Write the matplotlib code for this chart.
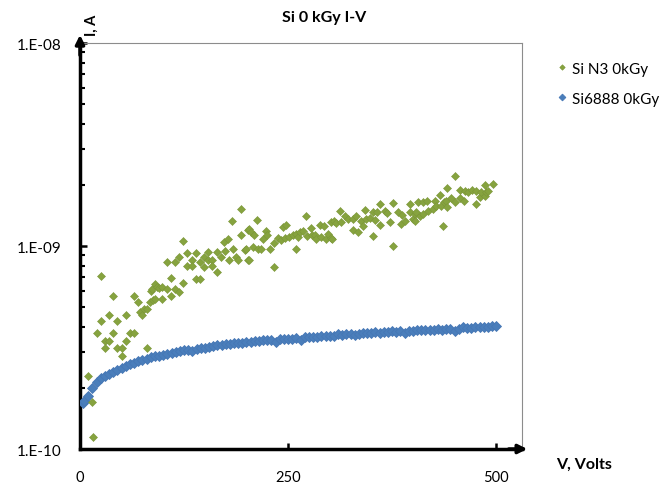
import numpy as np
import matplotlib
matplotlib.use("Agg")
import matplotlib.pyplot as plt
from matplotlib.ticker import LogLocator, NullFormatter, FixedLocator

plt.rcParams['font.family'] = ['Lato', 'DejaVu Sans']

title = "Si 0 kGy I-V"
series_names = ["Si N3 0kGy", "Si6888 0kGy"]
x_label = "V, Volts"
y_label = "I, A"
x_ticks = [0, 250, 500]
y_ticks = [1e-10, 1e-9, 1e-8]
y_tick_labels = ["1.E-10", "1.E-09", "1.E-08"]

# Si N3 0kGy (green)
green_v = [10, 15, 16, 20, 25, 25, 30, 30, 35, 35, 40, 40, 45, 45, 50, 50, 55, 55, 60, 65,
           65, 70, 72, 75, 77, 80, 80, 84, 85, 86, 88, 90, 90, 92, 95,
           99, 99, 104, 104, 109, 109, 114, 114, 119, 119, 124, 124, 129, 129, 134, 134,
           139, 139, 144, 144, 149, 149, 154, 154, 159, 159, 164, 164, 169, 173, 174,
           178, 179, 183, 184, 188, 190, 193, 193, 198, 199, 202, 202,
           203, 203, 206, 208, 209, 213, 214, 218, 220, 223, 225, 228, 233, 233, 238,
           241, 244, 246, 248, 251, 256, 259, 260, 262, 264, 268, 272, 273, 278, 279,
           282, 284, 288, 290, 293, 295, 298,
           302, 302, 303, 305, 308, 312, 314, 318, 322, 328, 328, 332, 334, 338, 340,
           342, 344, 348, 352, 352, 354, 357, 360, 361, 366, 369, 372, 376, 376, 382,
           386, 387, 391, 396, 396, 400, 402,
           403, 404, 406, 409, 412, 412, 417, 418, 424, 427, 428, 432, 434, 436, 437,
           440, 441, 441, 446, 451, 451, 456, 456, 461, 462, 466, 471, 476, 476, 480,
           482, 486, 486, 488, 490, 496]
green_i = [2.30e-10, 1.71e-10, 1.15e-10, 3.73e-10, 7.14e-10, 4.29e-10, 3.42e-10, 3.13e-10,
           4.57e-10, 3.42e-10, 5.69e-10, 3.73e-10, 4.29e-10, 3.13e-10, 3.13e-10, 2.88e-10,
           4.57e-10, 3.42e-10, 3.73e-10, 5.69e-10,
           3.73e-10, 5.28e-10, 4.71e-10, 4.57e-10, 4.90e-10, 4.90e-10, 3.13e-10, 5.28e-10,
           6.02e-10, 6.14e-10, 5.39e-10, 6.50e-10, 5.48e-10, 6.26e-10, 6.20e-10,
           6.26e-10, 5.48e-10, 8.37e-10, 6.14e-10, 6.93e-10, 5.69e-10, 8.37e-10, 6.14e-10,
           8.86e-10, 5.96e-10, 1.055e-9, 6.55e-10, 9.20e-10, 8.00e-10, 8.53e-10, 8.00e-10,
           9.20e-10, 6.88e-10, 8.37e-10, 6.88e-10, 8.80e-10, 7.90e-10, 9.37e-10, 8.53e-10,
           8.53e-10, 8.00e-10, 9.37e-10, 7.47e-10, 8.86e-10, 1.05e-9, 9.50e-10,
           1.08e-9, 8.53e-10, 1.33e-9, 9.66e-10, 8.86e-10, 8.53e-10, 1.52e-9, 1.13e-9,
           9.55e-10, 9.66e-10, 1.20e-9, 8.53e-10,
           1.21e-9, 8.56e-10, 1.17e-9, 9.85e-10, 1.13e-9, 1.34e-9, 9.66e-10, 9.66e-10,
           1.08e-9, 1.18e-9, 1.13e-9, 9.66e-10, 1.04e-9, 7.85e-10, 1.09e-9,
           1.07e-9, 1.245e-9, 1.09e-9, 1.27e-9, 1.11e-9, 1.13e-9, 9.66e-10, 1.15e-9,
           1.11e-9, 1.17e-9, 1.19e-9, 1.41e-9, 1.12e-9, 1.22e-9, 1.13e-9,
           1.13e-9, 1.08e-9, 1.27e-9, 1.11e-9, 1.26e-9, 1.08e-9, 1.15e-9,
           1.31e-9, 1.10e-9, 1.08e-9, 1.33e-9, 1.30e-9, 1.48e-9, 1.32e-9, 1.41e-9,
           1.36e-9, 1.36e-9, 1.20e-9, 1.41e-9, 1.17e-9, 1.33e-9, 1.26e-9,
           1.51e-9, 1.36e-9, 1.38e-9, 1.47e-9, 1.12e-9, 1.35e-9, 1.47e-9, 1.27e-9,
           1.61e-9, 1.48e-9, 1.45e-9, 1.31e-9, 1.63e-9, 9.96e-10, 1.47e-9,
           1.28e-9, 1.42e-9, 1.33e-9, 1.61e-9, 1.47e-9, 1.36e-9, 1.44e-9,
           1.33e-9, 1.47e-9, 1.64e-9, 1.40e-9, 1.65e-9, 1.44e-9, 1.67e-9, 1.49e-9,
           1.52e-9, 1.67e-9, 1.57e-9, 1.78e-9, 1.58e-9, 1.26e-9, 1.64e-9,
           1.67e-9, 1.92e-9, 1.55e-9, 1.72e-9, 2.20e-9, 1.64e-9, 1.89e-9, 1.73e-9,
           1.67e-9, 1.86e-9, 1.84e-9, 1.89e-9, 1.86e-9, 1.61e-9, 1.75e-9,
           1.84e-9, 2.00e-9, 1.76e-9, 1.85e-9, 1.87e-9, 2.02e-9]

# Si6888 0kGy (blue), values in units of 1e-10 A, at V = 4, 5, 10, ..., 500
blue_v = [4] + list(range(5, 501, 5))
blue_i_e10 = [1.68,
              1.72, 1.83, 2.00, 2.15, 2.24, 2.30, 2.35, 2.40, 2.46, 2.52,
              2.57, 2.62, 2.66, 2.70, 2.75, 2.78, 2.83, 2.87, 2.88, 2.92,
              2.95, 2.98, 3.00, 3.04, 3.06, 3.08, 3.03, 3.12, 3.14, 3.16,
              3.18, 3.20, 3.24, 3.26, 3.28, 3.29, 3.31, 3.33, 3.34, 3.36,
              3.38, 3.39, 3.42, 3.43, 3.44, 3.43, 3.38, 3.47, 3.50, 3.48,
              3.50, 3.52, 3.44, 3.55, 3.57, 3.56, 3.58, 3.59, 3.60, 3.61,
              3.62, 3.68, 3.66, 3.67, 3.68, 3.66, 3.70, 3.71, 3.72, 3.73,
              3.75, 3.74, 3.76, 3.77, 3.82, 3.79, 3.80, 3.74, 3.81, 3.83,
              3.84, 3.85, 3.84, 3.86, 3.87, 3.88, 3.87, 3.89, 3.88, 3.83,
              3.92, 3.97, 3.95, 3.96, 3.97, 3.98, 3.99, 4.00, 4.02, 4.03]
blue_i = [v * 1e-10 for v in blue_i_e10]

green_col = "#86A33F"
green_edge = "#7A9638"
blue_col = "#4A7EBB"
blue_edge = "#4677B5"

fig = plt.figure(figsize=(6.68, 4.85), dpi=100)
ax = fig.add_axes([80/668, 1 - 450/485, 442/668, 406/485])

ax.plot(blue_v, blue_i, linestyle='none', marker='D', ms=4.9, mfc=blue_col,
        mec=blue_edge, mew=0.6, label=series_names[1], zorder=3)
ax.plot(green_v, green_i, linestyle='none', marker='D', ms=4.0, mfc=green_col,
        mec=green_edge, mew=0.4, label=series_names[0], zorder=4)

ax.set_yscale('log')
ax.set_ylim(1e-10, 1e-8)
ax.set_xlim(0, 531)

ax.yaxis.set_major_locator(FixedLocator(y_ticks))
ax.set_yticklabels(y_tick_labels)
ax.yaxis.set_minor_locator(LogLocator(base=10, subs=np.arange(2, 10)))
ax.yaxis.set_minor_formatter(NullFormatter())
ax.set_xticks(x_ticks)
ax.set_xticklabels([str(t) for t in x_ticks])

ax.tick_params(axis='y', which='major', direction='in', length=5, width=1.8,
               labelsize=11, pad=13, color='black')
ax.tick_params(axis='y', which='minor', direction='in', length=3.5, width=1.5, color='black')
ax.tick_params(axis='x', which='major', direction='in', length=4.5, width=1.8,
               labelsize=10.5, pad=15, color='black')

for s in ['left', 'bottom']:
    ax.spines[s].set_linewidth(2.5)
    ax.spines[s].set_color('black')
for s in ['top', 'right']:
    ax.spines[s].set_linewidth(0.8)
    ax.spines[s].set_color('#8C8C8C')

# arrowheads
ax.annotate('', xy=(0, 1.02), xytext=(0, 0.97), xycoords='axes fraction',
            arrowprops=dict(arrowstyle='-|>', color='black', lw=2.5, mutation_scale=13,
                            shrinkA=0, shrinkB=0), annotation_clip=False)
ax.annotate('', xy=(1.012, 0), xytext=(0.97, 0), xycoords='axes fraction',
            arrowprops=dict(arrowstyle='-|>', color='black', lw=2.5, mutation_scale=13,
                            shrinkA=0, shrinkB=0), annotation_clip=False)

fig.text(324/668, 1 - 18/485, title, ha='center', va='center', fontsize=11.5, fontweight='bold')
fig.text(92/668, 1 - 25/485, y_label, ha='center', va='center', rotation=90,
         fontsize=10.5, fontweight='bold')
fig.text(584/668, 1 - 465/485, x_label, ha='center', va='center', fontsize=11.5,
         fontweight='bold')

handles, labels = ax.get_legend_handles_labels()
leg = fig.legend(handles[::-1], labels[::-1], loc='upper left',
                 bbox_to_anchor=(541/668, 1 - 49/485), frameon=False, fontsize=11,
                 markerscale=0.7, handlelength=1.0, handletextpad=0.15, labelspacing=1.05)

fig.savefig("out.png", dpi=100)
